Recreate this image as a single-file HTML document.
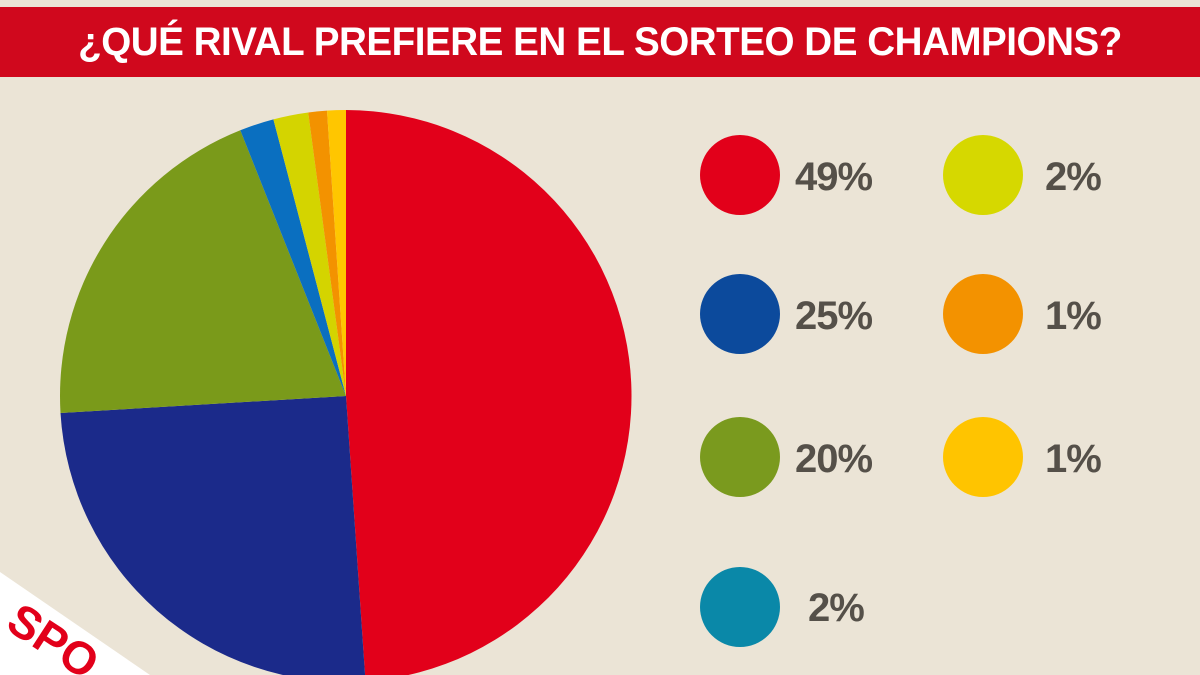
<!DOCTYPE html>
<html><head><meta charset="utf-8"><style>
html,body{margin:0;padding:0;}
body{width:1200px;height:675px;overflow:hidden;background:#ebe4d6;position:relative;font-family:"Liberation Sans",sans-serif;}
.hdr{position:absolute;left:0;top:7px;width:1200px;height:70px;background:#d0081d;overflow:hidden;}
.hdr span{position:absolute;left:0;top:0;width:1200px;color:#fff;font-weight:bold;font-size:40px;text-align:center;line-height:70px;letter-spacing:-0.5px;transform:scaleX(0.965);transform-origin:600px 35px;}
.c{position:absolute;width:80px;height:80px;border-radius:50%;}
.t{position:absolute;font-weight:bold;font-size:40px;color:#555049;line-height:40px;letter-spacing:-1px;}
</style></head><body>
<div class="hdr"><span>¿QUÉ RIVAL PREFIERE EN EL SORTEO DE CHAMPIONS?</span></div>
<svg width="1200" height="675" style="position:absolute;left:0;top:0;overflow:hidden">
<path d="M346 396 L346 110 A286 286 0 0 1 365.5 681.3 Z" fill="#e2001a"/>
<path d="M346 396 L365.5 681.3 A286 286 0 0 1 60.5 413 Z" fill="#1b2a8a"/>
<path d="M346 396 L60.5 413 A286 286 0 0 1 240.3 130.3 Z" fill="#7a9a1a"/>
<path d="M346 396 L240.3 130.3 A286 286 0 0 1 273.4 119.4 Z" fill="#0a6fc0"/>
<path d="M346 396 L273.4 119.4 A286 286 0 0 1 308.2 112.5 Z" fill="#d4d400"/>
<path d="M346 396 L308.2 112.5 A286 286 0 0 1 327 110.6 Z" fill="#f39200"/>
<path d="M346 396 L327 110.6 A286 286 0 0 1 346 110 Z" fill="#ffc600"/>
<polygon points="0,572 150,675 0,675" fill="#ffffff"/>
<text x="0" y="0" transform="translate(4,628) rotate(33)" font-family="Liberation Sans" font-weight="bold" font-size="46" fill="#e2001a">SPO</text>
</svg>
<div class="c" style="left:700px;top:135px;background:#e2001a"></div>
<div class="t" style="left:795px;top:157px">49%</div>
<div class="c" style="left:700px;top:274px;background:#0c4a9c"></div>
<div class="t" style="left:795px;top:296px">25%</div>
<div class="c" style="left:700px;top:417px;background:#7a9a1e"></div>
<div class="t" style="left:795px;top:439px">20%</div>
<div class="c" style="left:700px;top:567px;background:#0a88a8"></div>
<div class="t" style="left:808px;top:588px">2%</div>
<div class="c" style="left:943px;top:135px;background:#d6d800"></div>
<div class="t" style="left:1045px;top:157px">2%</div>
<div class="c" style="left:943px;top:274px;background:#f39200"></div>
<div class="t" style="left:1045px;top:296px">1%</div>
<div class="c" style="left:943px;top:417px;background:#ffc400"></div>
<div class="t" style="left:1045px;top:439px">1%</div>
</body></html>
